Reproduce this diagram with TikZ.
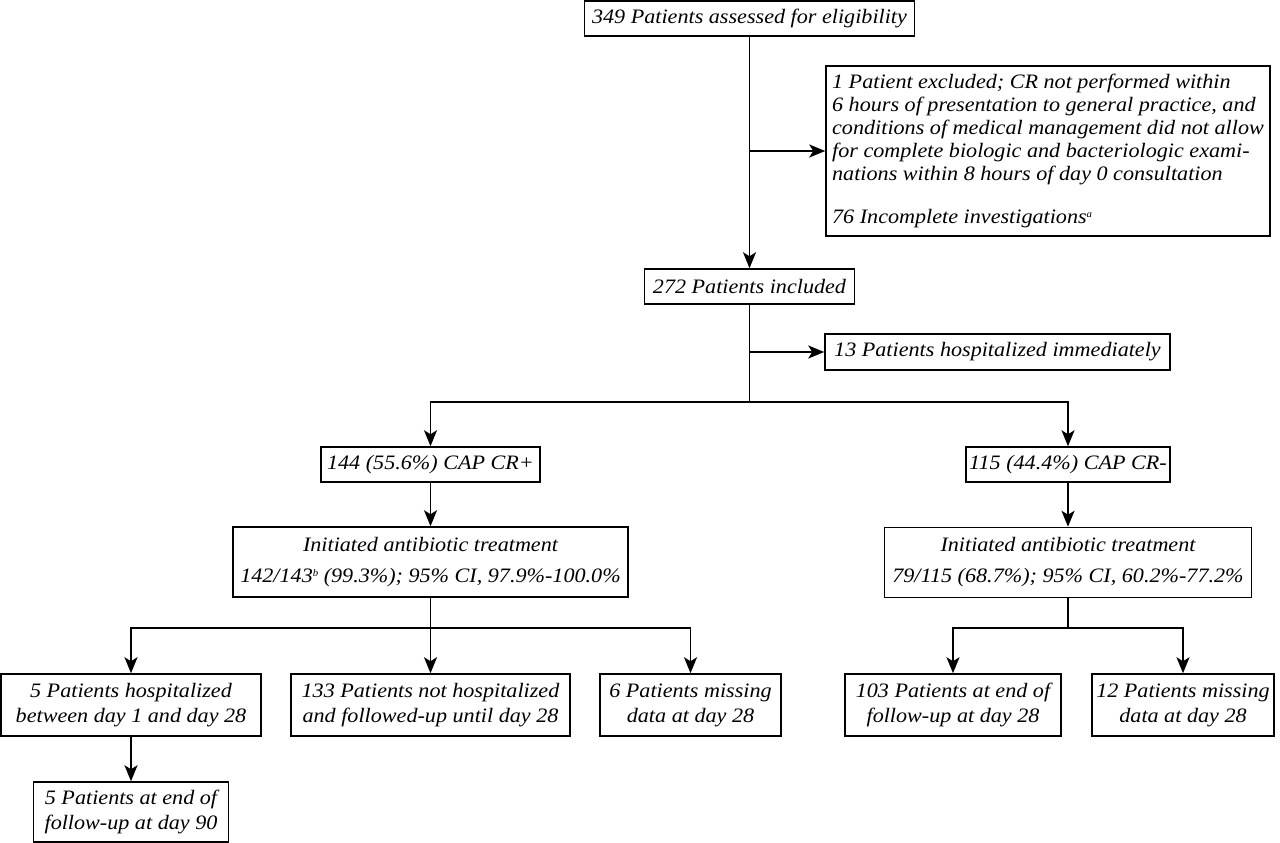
\documentclass[tikz,border=0pt]{standalone}
\usepackage{fontspec}
\setmainfont{Liberation Serif}[FakeStretch=1.08]
\usetikzlibrary{arrows.meta}
\newcommand{\supmark}[1]{\raisebox{6pt}{\fontsize{10}{10}\selectfont #1}}
\begin{document}
\begin{tikzpicture}[x=1pt,y=-1pt,
 box/.style={draw, line width=1.5pt, inner sep=0pt, align=center, font=\fontsize{20.5}{25}\selectfont\itshape},
 arr/.style={line width=1.8pt, -{Stealth[length=16pt,width=13pt,inset=4pt]}},
 ln/.style={line width=1.8pt}]
\useasboundingbox (0,0) rectangle (1280,843);
\fill[white] (0,0) rectangle (1280,843);

\node[box, minimum width=330, minimum height=35] (top) at (749.5,18.5) {349 Patients assessed for eligibility};
\node[box, minimum width=444, minimum height=170, align=left, font=\fontsize{20.5}{23}\selectfont\itshape] (excl) at (1048,151) {1 Patient excluded; CR not performed within\\6 hours of presentation to general practice, and\\conditions of medical management did not allow\\for complete biologic and bacteriologic exami-\\nations within 8 hours of day 0 consultation\\[20pt]76 Incomplete investigations\supmark{a}};
\node[box, minimum width=210, minimum height=35] (inc) at (749.5,286.5) {272 Patients included};
\node[box, minimum width=345, minimum height=36] (h13) at (997.5,352) {13 Patients hospitalized immediately};
\node[box, minimum width=219, minimum height=35] (cpos) at (430.5,464.5) {144 (55.6\%) CAP CR+};
\node[box, minimum width=204, minimum height=35] (cneg) at (1068,464.5) {115 (44.4\%) CAP CR-};
\node[box, minimum width=395, minimum height=70, font=\fontsize{20.5}{31}\selectfont\itshape] (itl) at (430.5,562) {Initiated antibiotic treatment\\142/143\supmark{b} (99.3\%); 95\% CI, 97.9\%-100.0\%};
\node[box, minimum width=367, minimum height=70, font=\fontsize{20.5}{31}\selectfont\itshape] (itr) at (1068,562.5) {Initiated antibiotic treatment\\79/115 (68.7\%); 95\% CI, 60.2\%-77.2\%};
\node[box, minimum width=260, minimum height=62] (b1) at (131,705) {5 Patients hospitalized\\between day 1 and day 28};
\node[box, minimum width=279, minimum height=62] (b2) at (430.5,705) {133 Patients not hospitalized\\and followed-up until day 28};
\node[box, minimum width=181, minimum height=62] (b3) at (690.5,705) {6 Patients missing\\data at day 28};
\node[box, minimum width=216, minimum height=62] (b4) at (953,705) {103 Patients at end of\\follow-up at day 28};
\node[box, minimum width=182, minimum height=62] (b5) at (1183,705) {12 Patients missing\\data at day 28};
\node[box, minimum width=195, minimum height=60] (b6) at (131,812) {5 Patients at end of\\follow-up at day 90};

\draw[arr] (top.south) -- (inc.north);
\coordinate (j1) at (top.south |- excl.west);
\draw[arr] (j1) -- (excl.west);
\coordinate (j2) at (inc.south |- h13.west);
\draw[arr] (j2) -- (h13.west);
\coordinate (s1) at (749.5,402);
\draw[ln] (inc.south) -- (s1);
\draw[arr] (s1) -| (cpos.north);
\draw[arr] (s1) -| (cneg.north);
\draw[arr] (cpos.south) -- (itl.north);
\draw[arr] (cneg.south) -- (itr.north);
\coordinate (s2) at (430.5,628);
\draw[ln] (itl.south) -- (s2);
\draw[arr] (s2) -| (b1.north);
\draw[arr] (s2) -- (b2.north);
\draw[arr] (s2) -| (b3.north);
\coordinate (s3) at (1068,628);
\draw[ln] (itr.south) -- (s3);
\draw[arr] (s3) -| (b4.north);
\draw[arr] (s3) -| (b5.north);
\draw[arr] (b1.south) -- (b6.north);
\end{tikzpicture}
\end{document}
